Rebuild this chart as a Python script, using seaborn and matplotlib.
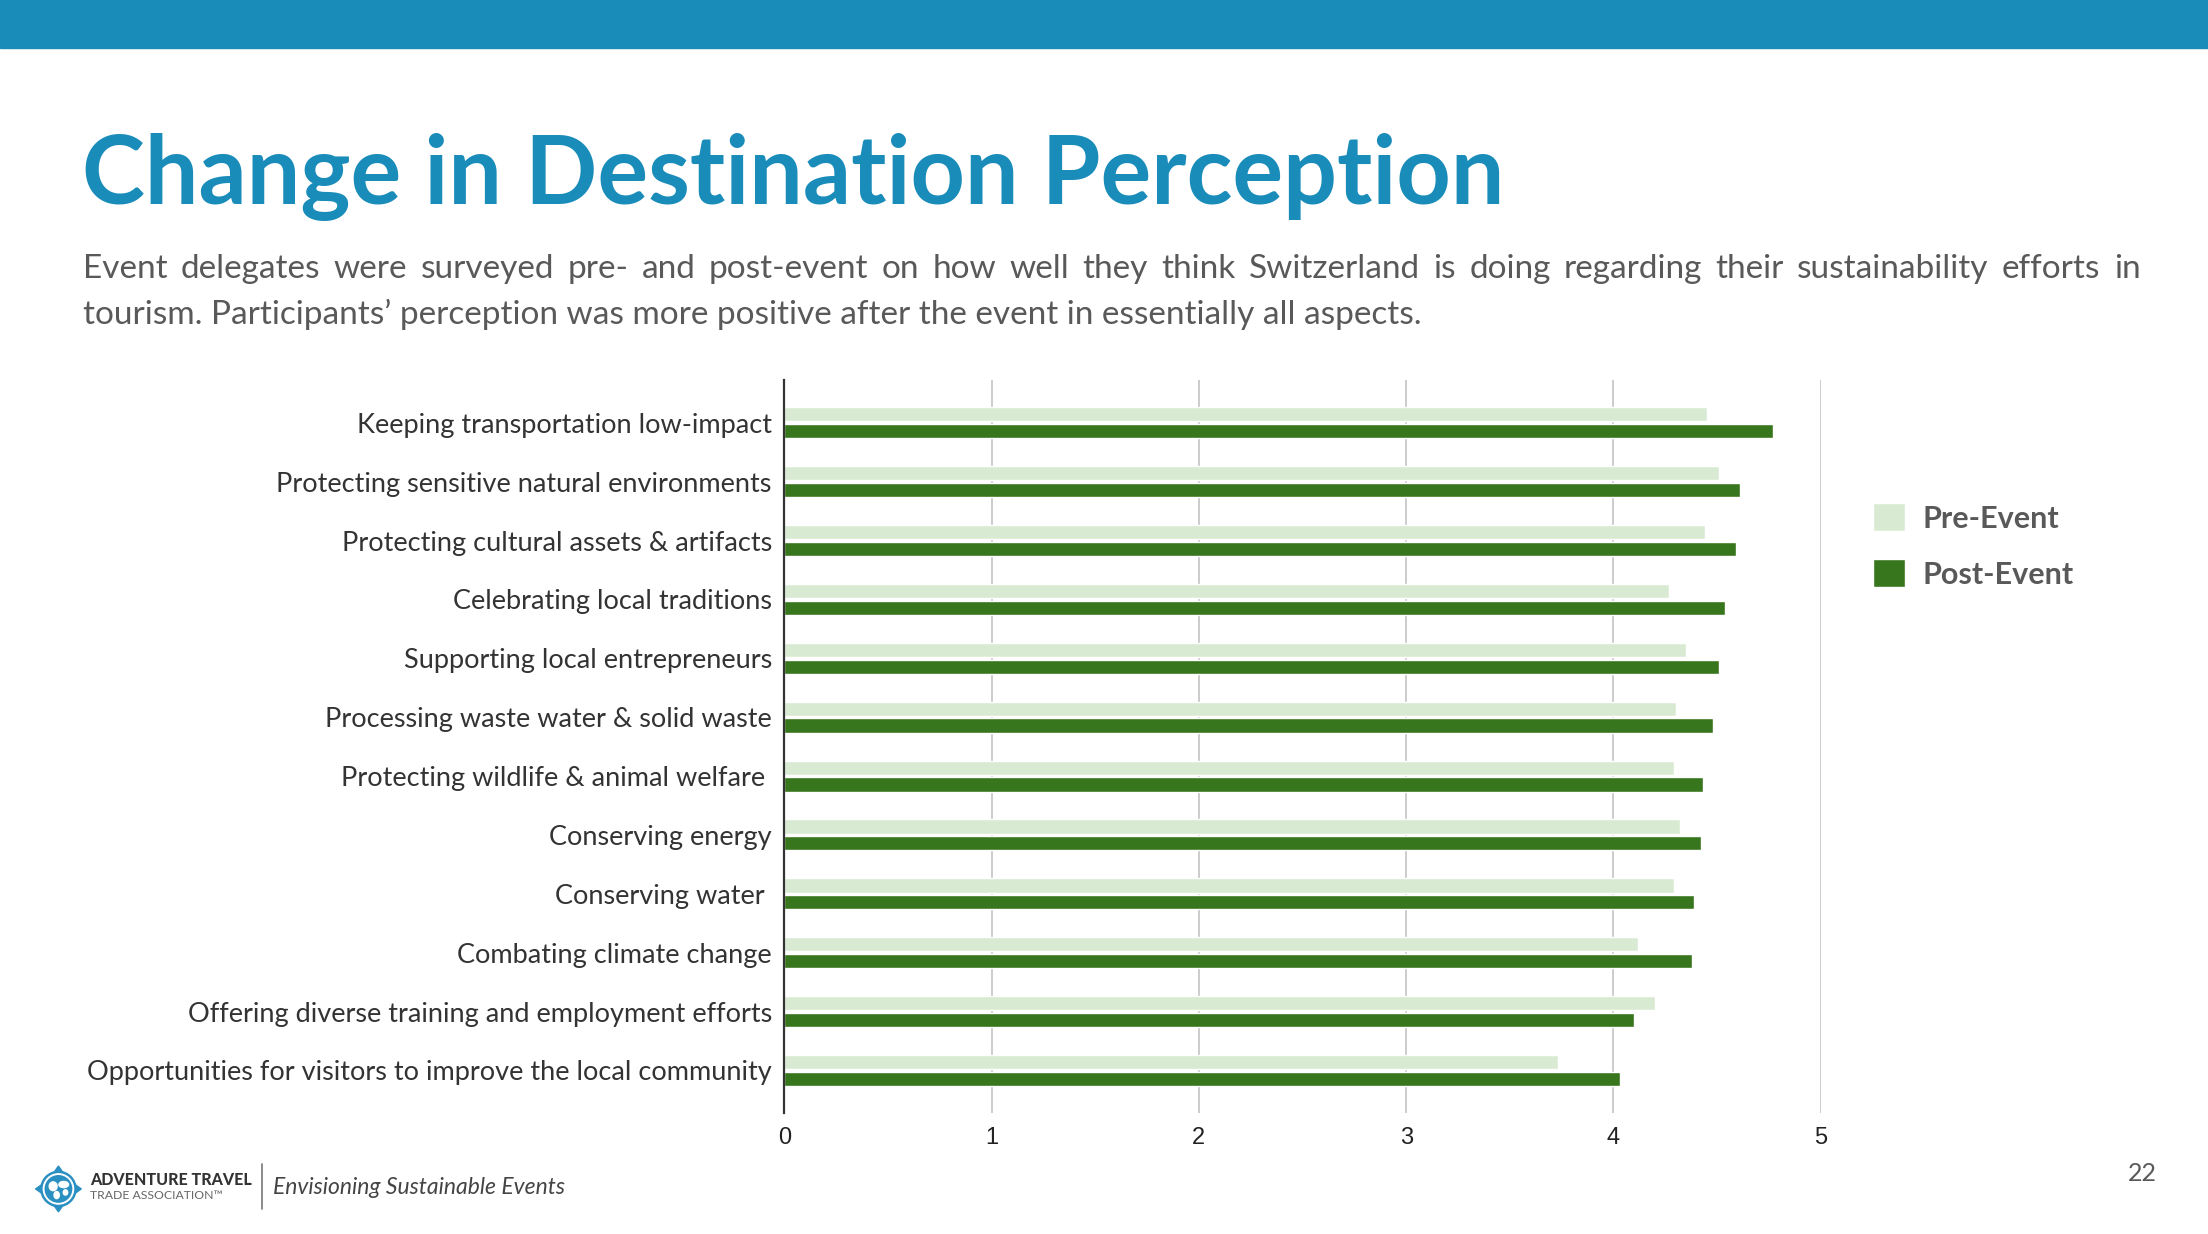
import matplotlib
matplotlib.use("Agg")
import matplotlib.pyplot as plt
from matplotlib.patches import Rectangle, Polygon, Ellipse
from matplotlib.lines import Line2D
import seaborn as sns
import pandas as pd

# dados
aspects = [
    "Keeping transportation low-impact",
    "Protecting sensitive natural environments",
    "Protecting cultural assets & artifacts",
    "Celebrating local traditions",
    "Supporting local entrepreneurs",
    "Processing waste water & solid waste",
    "Protecting wildlife & animal welfare ",
    "Conserving energy",
    "Conserving water ",
    "Combating climate change",
    "Offering diverse training and employment efforts",
    "Opportunities for visitors to improve the local community",
]
pre_event = [4.45, 4.51, 4.44, 4.27, 4.35, 4.30, 4.29, 4.32, 4.29, 4.12, 4.20, 3.73]
post_event = [4.77, 4.61, 4.59, 4.54, 4.51, 4.48, 4.43, 4.42, 4.39, 4.38, 4.10, 4.03]
periods = ["Pre-Event", "Post-Event"]
x_ticks = [0, 1, 2, 3, 4, 5]

title = "Change in Destination Perception"
subtitle1 = ("Event delegates were surveyed pre- and post-event on how well they think "
             "Switzerland is doing regarding their sustainability efforts in")
subtitle2 = ("tourism. Participants\u2019 perception was more positive after the event "
             "in essentially all aspects.")

df = pd.DataFrame({
    "aspect": aspects * 2,
    "period": [periods[0]] * len(aspects) + [periods[1]] * len(aspects),
    "score": pre_event + post_event,
})

# cores
blue = "#1a8cba"
logo_blue = "#2a8fc1"
light_green = "#d9ead3"
dark_green = "#38761d"
gray_text = "#595959"

W, H = 1568, 876  # coordenadas de referencia

def fx(x):
    return x / W

def fy(y):
    return 1 - y / H

sns.set_style("white")
plt.rcParams["font.family"] = ["Lato", "DejaVu Sans"]

fig = plt.figure(figsize=(22.08, 12.34), dpi=100)
fig.patch.set_facecolor("white")

# faixa azul no topo
fig.patches.append(Rectangle((0, fy(34)), 1, 1 - fy(34), transform=fig.transFigure,
                             color=blue, zorder=0))

fig.text(fx(58), fy(145), title, fontsize=68.4, fontweight="bold", color=blue,
         va="baseline", ha="left")

# subtitulo justificado
def justify(words, x0, x1, y, **kw):
    r = fig.canvas.get_renderer()
    texts = [fig.text(0, y, w, **kw) for w in words]
    widths = [t.get_window_extent(r).width for t in texts]
    total = fig.bbox.width * (x1 - x0)
    space = (total - sum(widths)) / (len(words) - 1)
    x = x0 * fig.bbox.width
    for t, w in zip(texts, widths):
        t.set_x(x / fig.bbox.width)
        x += w + space

sub_kw = dict(fontsize=24, color=gray_text, va="baseline", ha="left")
justify(subtitle1.split(), fx(59), fx(1520), fy(197), **sub_kw)
fig.text(fx(59), fy(230), subtitle2, **sub_kw)

# grafico
ax = fig.add_axes([fx(557), fy(790), fx(1293) - fx(557), fy(270) - fy(790)])
sns.barplot(data=df, y="aspect", x="score", hue="period", orient="h",
            palette={periods[0]: light_green, periods[1]: dark_green},
            width=0.57, gap=0.15, ax=ax, legend=True, saturation=1)
ax.set_xlim(0, 5)
ax.set_ylim(len(aspects) - 0.28, -0.72)
ax.set_xticks(x_ticks)
ax.set_xticklabels([str(t) for t in x_ticks], family="Liberation Sans", fontsize=17,
                   color="#222222")
ax.tick_params(axis="x", length=0, pad=10)
ax.tick_params(axis="y", length=0, pad=9, labelsize=19.5, labelcolor="#333333")
ax.set_xlabel("")
ax.set_ylabel("")
ax.grid(axis="x", color="#cccccc", linewidth=1.4)
ax.set_axisbelow(True)
for s in ["top", "right", "bottom"]:
    ax.spines[s].set_visible(False)
ax.spines["left"].set_color("#333333")
ax.spines["left"].set_linewidth(1.6)
ax.spines["left"].set_zorder(3)

handles, labels = ax.get_legend_handles_labels()
leg = ax.legend(handles, labels, loc="upper left", bbox_to_anchor=(fx(1330), fy(357)),
                bbox_transform=fig.transFigure, frameon=False, borderpad=0,
                borderaxespad=0, handlelength=1.06, handleheight=1.06,
                handletextpad=0.55, labelspacing=0.86,
                prop={"family": "Lato", "weight": "bold", "size": 22})
for t in leg.get_texts():
    t.set_color(gray_text)

# rodape: logo
cx, cy = fx(41.5), fy(844)
ratio = fig.bbox.width / fig.bbox.height
rx = 12.5 / W
ry = rx * ratio
pts = 1.3
for dx, dy in [(0, 1), (0, -1), (1, 0), (-1, 0)]:
    tip = (cx + dx * rx * pts, cy + dy * ry * pts)
    side = 0.35
    a = (cx + (dx * 0.8 - dy * side) * rx, cy + (dy * 0.8 + dx * side) * ry)
    b = (cx + (dx * 0.8 + dy * side) * rx, cy + (dy * 0.8 - dx * side) * ry)
    fig.patches.append(Polygon([tip, a, b], transform=fig.transFigure, color=logo_blue))
fig.patches.append(Ellipse((cx, cy), 2 * rx, 2 * ry, transform=fig.transFigure,
                           color=logo_blue))
fig.patches.append(Ellipse((cx, cy), 1.72 * rx, 1.72 * ry, transform=fig.transFigure,
                           color="white"))
fig.patches.append(Ellipse((cx, cy), 1.5 * rx, 1.5 * ry, transform=fig.transFigure,
                           color=logo_blue))
for ex, ey, ew, eh in [(-0.3, 0.15, 0.45, 0.5), (0.3, 0.25, 0.55, 0.35),
                       (-0.1, -0.35, 0.3, 0.4), (0.4, -0.2, 0.25, 0.3)]:
    fig.patches.append(Ellipse((cx + ex * rx, cy + ey * ry), ew * rx, eh * ry,
                               transform=fig.transFigure, color="white"))

fig.text(fx(64), fy(838), "ADVENTURE TRAVEL", fontsize=11.5, fontweight="black",
         color="#333333", va="center", ha="left")
fig.text(fx(64), fy(849), "TRADE ASSOCIATION\u2122", fontsize=8.8, color="#666666",
         va="center", ha="left")
fig.lines.append(Line2D([fx(186), fx(186)], [fy(826), fy(858)], transform=fig.transFigure,
                        color="#777777", linewidth=1.2))
fig.text(fx(194), fy(843), "Envisioning Sustainable Events", fontsize=16.5,
         style="italic", color="#444444", va="center", ha="left")
fig.text(fx(1532), fy(833), "22", fontsize=18, color=gray_text, va="center", ha="right")

fig.savefig("out.png", dpi=100, facecolor="white")
